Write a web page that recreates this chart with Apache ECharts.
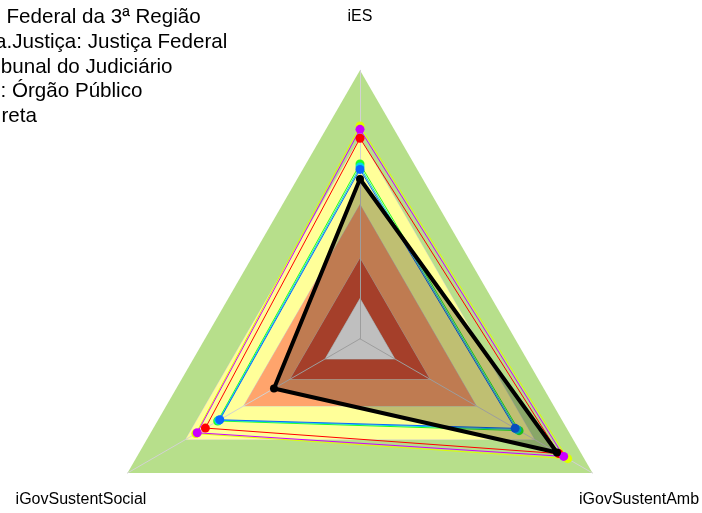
<!DOCTYPE html>
<html><head><meta charset="utf-8">
<script src="https://cdn.jsdelivr.net/npm/echarts@6/dist/echarts.min.js"></script>
<style>html,body{margin:0;padding:0;background:#fff}#c{width:702px;height:513px}</style>
</head><body><div id="c"></div>
<script>
// ---- data ----
const indicatorNames = ['iES', 'iGovSustentSocial', 'iGovSustentAmb'];
const bandLevels = [1, 0.75, 0.5, 0.3, 0.15];
const seriesRed = [0.747, 0.665, 0.855];
const seriesYellow = [0.793, 0.706, 0.893];
const seriesGreen = [0.651, 0.612, 0.684];
const seriesCyan = [0.640, 0.607, 0.675];
const seriesBlue = [0.631, 0.603, 0.667];
const seriesMagenta = [0.780, 0.700, 0.876];
const seriesOrgao = [0.595, 0.370, 0.847];
const infoLines = ['Federal da 3ª Região', 'a.Justiça: Justiça Federal', 'bunal do Judiciário', ': Órgão Público', 'reta'];

// ---- layout / style ----
const CX = 360, CY = 338.8, R = 268.5;
const bandColors = ['#B7DF8B', '#FFFF99', '#FFA46C', '#DD5538', '#FFFFFF'];
const infoX = [6.5, -5, 0.8, 0.5, 1.5];
const infoY = [17, 42, 67, 91.5, 116.5];

const chart = echarts.init(document.getElementById('c'), null, {renderer: 'canvas'});

const bandData = bandLevels.map((v, i) => ({
  value: indicatorNames.map(() => v),
  areaStyle: {color: bandColors[i], opacity: 1},
  lineStyle: {color: i === 0 ? bandColors[0] : '#CCCCCC', width: i === 0 ? 0 : 1}
}));

function dataSeries(vals, color) {
  return {
    type: 'radar', z: 3, symbol: 'circle', symbolSize: 9,
    lineStyle: {color: color, width: 1},
    itemStyle: {color: color},
    data: [{value: vals}],
    silent: true
  };
}

const graphics = [];
indicatorNames.forEach((n, i) => {
  const a = (90 + i * 120) * Math.PI / 180;
  graphics.push({
    type: 'text', x: CX + 1.2 * R * Math.cos(a), y: CY - 1.2 * R * Math.sin(a),
    style: {text: n, fill: '#000', font: '16px "Liberation Sans", Arial, sans-serif',
      align: 'center', verticalAlign: 'middle', textAlign: 'center', textVerticalAlign: 'middle'}
  });
});
infoLines.forEach((t, i) => {
  graphics.push({
    type: 'text', x: infoX[i], y: infoY[i],
    style: {text: t, fill: '#000', font: '20.6px "Liberation Sans", Arial, sans-serif',
      align: 'left', verticalAlign: 'middle', textAlign: 'left', textVerticalAlign: 'middle'}
  });
});

chart.setOption({
  animation: false,
  backgroundColor: '#fff',
  radar: {
    center: [CX, CY], radius: R, shape: 'polygon', startAngle: 90, z: 1,
    indicator: indicatorNames.map(n => ({name: n, min: 0, max: 1})),
    axisName: {show: false},
    axisLine: {lineStyle: {color: '#D2D2D2', width: 1}},
    splitLine: {show: false},
    splitArea: {show: false},
    axisTick: {show: false},
    axisLabel: {show: false}
  },
  series: [
    {type: 'radar', z: 0, symbol: 'none', silent: true, data: bandData},
    dataSeries(seriesRed, '#FF0000'),
    dataSeries(seriesYellow, '#DDFF00'),
    dataSeries(seriesGreen, '#22FF22'),
    dataSeries(seriesCyan, '#00D8E8'),
    dataSeries(seriesBlue, '#0A66FF'),
    dataSeries(seriesMagenta, '#CC00FF'),
    {
      type: 'radar', z: 4, symbol: 'circle', symbolSize: 8, silent: true,
      lineStyle: {color: '#000', width: 4},
      itemStyle: {color: '#000'},
      areaStyle: {color: '#000', opacity: 0.25},
      data: [{value: seriesOrgao}]
    }
  ],
  graphic: graphics
});
</script></body></html>
